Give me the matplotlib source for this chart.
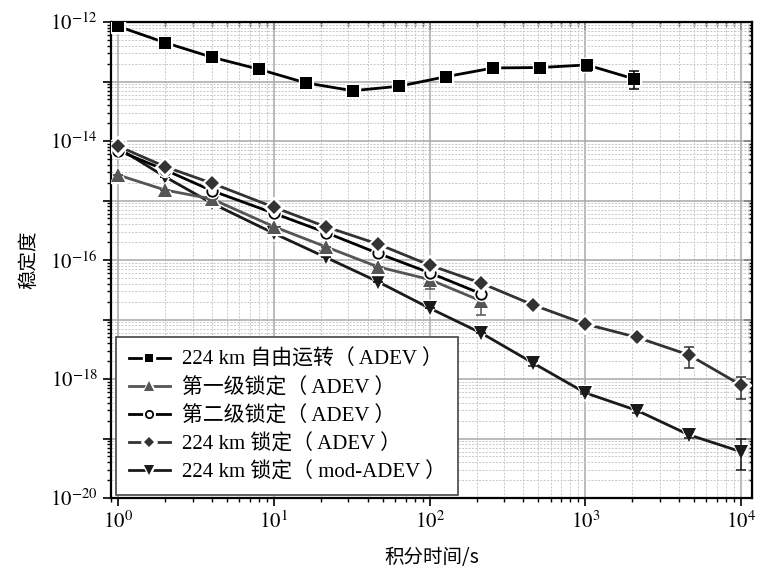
import numpy as np
import matplotlib
matplotlib.use("Agg")
import matplotlib.pyplot as plt
from matplotlib.lines import Line2D
from matplotlib.legend_handler import HandlerTuple
from matplotlib.ticker import FixedLocator, FuncFormatter, LogLocator, NullFormatter

plt.rcParams["font.family"] = ["Liberation Serif", "Noto Sans CJK SC"]
plt.rcParams["mathtext.fontset"] = "stix"

# 224 km 自由运转
tau_free = [1, 2, 4, 8, 16, 32, 64, 128, 256, 512, 1024, 2048]
adev_free = [8.45e-13, 4.5e-13, 2.56e-13, 1.61e-13, 9.5e-14, 7.0e-14,
             8.35e-14, 1.21e-13, 1.69e-13, 1.72e-13, 1.9e-13, 1.11e-13]
err_free_lo = [0, 0, 0, 0, 0, 0, 0, 0, 0, 0, 0.41e-13, 0.375e-13]
err_free_hi = [0, 0, 0, 0, 0, 0, 0, 0, 0, 0, 0.29e-13, 0.40e-13]

# 锁定后的测量点
tau_lock = [1, 2, 4, 10, 21.5, 46.4, 100, 215, 464, 1000, 2154, 4642, 10000]

adev_stage1 = [2.68e-15, 1.5e-15, 1.06e-15, 3.63e-16, 1.67e-16, 7.7e-17, 4.7e-17, 2.04e-17]
err_stage1_lo = [0, 0, 0, 0, 0, 0, 1.4e-17, 0.84e-17]
err_stage1_hi = [0, 0, 0, 0, 0, 0, 1.5e-17, 1.1e-17]

adev_stage2 = [6.9e-15, 3.26e-15, 1.46e-15, 6.1e-16, 2.9e-16, 1.3e-16, 6.1e-17, 2.7e-17]

adev_lock = [8.2e-15, 3.7e-15, 1.95e-15, 7.7e-16, 3.63e-16, 1.86e-16, 8.2e-17,
             4.07e-17, 1.75e-17, 8.4e-18, 5.0e-18, 2.53e-18, 7.9e-19]
err_lock_lo = [0] * 11 + [1.01e-18, 3.3e-19]
err_lock_hi = [0] * 11 + [0.97e-18, 3.1e-19]

mdev_lock = [7.6e-15, 2.5e-15, 8.97e-16, 2.8e-16, 1.11e-16, 4.34e-17, 1.55e-17,
             5.9e-18, 1.84e-18, 5.85e-19, 2.95e-19, 1.15e-19, 6.0e-20]
err_mdev_lo = [0] * 8 + [0.2e-18, 0.3e-19, 0.3e-19, 0.12e-19, 3.1e-20]
err_mdev_hi = [0] * 8 + [0.2e-18, 0.3e-19, 0.3e-19, 0.12e-19, 3.7e-20]

labels = [
    "224 km 自由运转（ ADEV ）",
    "第一级锁定（ ADEV ）",
    "第二级锁定（ ADEV ）",
    "224 km 锁定（ ADEV ）",
    "224 km 锁定（ mod-ADEV ）",
]

fig = plt.figure(figsize=(7.58, 5.78), dpi=100)
ax = fig.add_axes([0.1464, 0.1384, 0.8456, 0.8235])


def draw_series(x, y, color, marker, ms, z, yerr=None, mfc=None, mew=0):
    """折线 + 符号周围留白 + 符号, 可选误差棒"""
    ax.plot(x, y, color=color, lw=2, zorder=z)
    ax.plot(x, y, ls="none", marker=marker, ms=ms + 2.5, mfc="white", mec="white",
            zorder=z + 0.1)
    if yerr is not None:
        ax.errorbar(x, y, yerr=yerr, fmt="none", ecolor=color, elinewidth=1.1,
                    capsize=3.5, capthick=1.1, zorder=z + 0.15)
    ax.plot(x, y, ls="none", marker=marker, ms=ms, mfc=mfc or color, mec=color,
            mew=mew, zorder=z + 0.2)
    line = Line2D([], [], color=color, lw=2, marker=marker, ms=ms * 0.7 + 3,
                  mfc="white", mec="white")
    mark = Line2D([], [], ls="none", marker=marker, ms=ms * 0.7, mfc=mfc or color,
                  mec=color, mew=mew)
    return (line, mark)


handles = [
    draw_series(tau_free, adev_free, "black", "s", 8, 3, yerr=[err_free_lo, err_free_hi]),
    draw_series(tau_lock[:len(adev_stage1)], adev_stage1, "#555555", "^", 9.5, 4,
                yerr=[err_stage1_lo, err_stage1_hi]),
    draw_series(tau_lock[:len(adev_stage2)], adev_stage2, "black", "o", 7.5, 5,
                mfc="white", mew=1.3),
    draw_series(tau_lock, adev_lock, "#333333", "D", 7.5, 6, yerr=[err_lock_lo, err_lock_hi]),
    draw_series(tau_lock, mdev_lock, "#1a1a1a", "v", 9.5, 3.5, yerr=[err_mdev_lo, err_mdev_hi]),
]

ax.set_xscale("log")
ax.set_yscale("log")
ax.set_xlim(10 ** -0.047, 10 ** 4.07)
ax.set_ylim(1e-20, 1e-12)

x_major = [1, 10, 100, 1000, 10000]
y_major = [10.0 ** e for e in range(-20, -11)]
minor_subs = np.arange(2, 10)

ax.xaxis.set_major_locator(FixedLocator(x_major))
ax.xaxis.set_minor_locator(LogLocator(base=10, subs=minor_subs, numticks=20))
ax.xaxis.set_major_formatter(FuncFormatter(lambda v, p: r"$10^{%d}$" % round(np.log10(v))))
ax.xaxis.set_minor_formatter(NullFormatter())

ax.yaxis.set_major_locator(FixedLocator(y_major))
ax.yaxis.set_minor_locator(LogLocator(base=10, subs=minor_subs, numticks=20))


def ylab(v, pos):
    e = round(np.log10(v))
    return r"$10^{%d}$" % e if e % 2 == 0 else ""


ax.yaxis.set_major_formatter(FuncFormatter(ylab))
ax.yaxis.set_minor_formatter(NullFormatter())

ax.tick_params(which="major", direction="out", length=6, width=1.2, labelsize=15)
ax.tick_params(which="minor", direction="out", length=3, width=1)

ax.grid(which="major", color="#a8a8a8", lw=1.1, ls="-")
ax.grid(which="minor", color="#c8c8c8", lw=0.7, ls=(0, (2, 1.5)))
ax.set_axisbelow(True)

for sp in ax.spines.values():
    sp.set_linewidth(1.6)

# 上、右两侧的内向刻度
top = ax.secondary_xaxis("top")
top.xaxis.set_major_locator(FixedLocator(x_major))
top.xaxis.set_minor_locator(LogLocator(base=10, subs=minor_subs, numticks=20))
top.tick_params(which="major", direction="in", length=6, width=1.2, labeltop=False)
top.tick_params(which="minor", direction="in", length=3, width=1)
right = ax.secondary_yaxis("right")
right.yaxis.set_major_locator(FixedLocator(y_major))
right.yaxis.set_minor_locator(LogLocator(base=10, subs=minor_subs, numticks=20))
right.tick_params(which="major", direction="in", length=6, width=1.2, labelright=False)
right.tick_params(which="minor", direction="in", length=3, width=1)

ax.set_xlabel("积分时间/s", family=["Noto Sans CJK SC"], fontsize=14, labelpad=10)
ax.set_ylabel("稳定度", family=["Noto Sans CJK SC"], fontsize=14, labelpad=8)

leg = ax.legend(handles, labels, handler_map={tuple: HandlerTuple(ndivide=1)},
                loc="lower left", bbox_to_anchor=(0.008, 0.006), borderaxespad=0,
                fontsize=15, frameon=True, fancybox=False, framealpha=1,
                edgecolor="#444444", handlelength=2.0, handletextpad=0.55,
                labelspacing=0.38, borderpad=0.6)
leg.get_frame().set_linewidth(1.2)
leg.set_zorder(10)

fig.savefig("out.png", dpi=100)
